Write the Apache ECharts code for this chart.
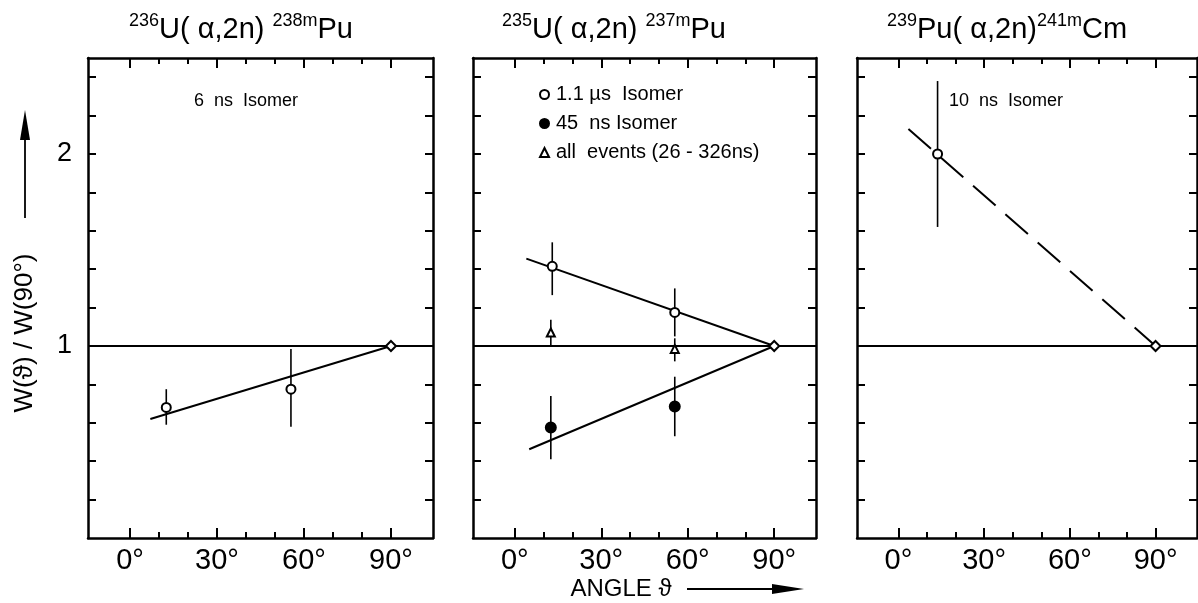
<!DOCTYPE html>
<html>
<head>
<meta charset="utf-8">
<script src="https://cdn.jsdelivr.net/npm/echarts@6/dist/echarts.min.js"></script>
<style>
html,body{margin:0;padding:0;background:#fff;}
#chart{width:1198px;height:603px;}
</style>
</head>
<body>
<div id="chart"></div>
<script>
// ---------- data ----------
const xTickMajor = [0, 30, 60, 90];
const xTickMinor = [10, 20, 40, 50, 70, 80];
const yTicks = [0.2, 0.4, 0.6, 0.8, 1, 1.2, 1.4, 1.6, 1.8, 2, 2.2, 2.4];
const yLabels = [1, 2];
const refLevel = 1;

// Panel 1: 236U(a,2n)238mPu, 6 ns isomer
const p1Angle = [12.5, 55.5, 90];
const p1W = [0.68, 0.775, 1.0];
const p1Lo = [0.59, 0.58, 0.985];
const p1Hi = [0.775, 0.985, 1.015];
const p1FitAngle = [7, 90];
const p1FitW = [0.62, 1.0];

// Panel 2: 235U(a,2n)237mPu
const p2OpenAngle = [13, 55.5, 90];
const p2OpenW = [1.415, 1.175, 1.0];
const p2OpenLo = [1.265, 1.05, 0.985];
const p2OpenHi = [1.54, 1.30, 1.015];
const p2FilledAngle = [12.5, 55.5];
const p2FilledW = [0.575, 0.685];
const p2FilledLo = [0.41, 0.53];
const p2FilledHi = [0.74, 0.84];
const p2TriAngle = [12.5, 55.5];
const p2TriW = [1.07, 0.985];
const p2TriLo = [1.0, 0.92];
const p2TriHi = [1.137, 1.04];
const p2FitOpenAngle = [4, 90];
const p2FitOpenW = [1.455, 1.0];
const p2FitFilledAngle = [5, 90];
const p2FitFilledW = [0.462, 1.0];

// Panel 3: 239Pu(a,2n)241mCm, 10 ns isomer
const p3Angle = [13.7, 90];
const p3W = [2.0, 1.0];
const p3Lo = [1.62, 0.985];
const p3Hi = [2.38, 1.015];
const p3FitAngle = [3.5, 90];
const p3FitW = [2.13, 1.0];

// ---------- helpers ----------
const FONT = "'Liberation Sans','DejaVu Sans',sans-serif";
const XMIN = -14.5, XMAX = 104.5, YMIN = 0, YMAX = 2.5;
const grids = [
  {left: 88, top: 58, width: 345, height: 480},
  {left: 473, top: 58, width: 343, height: 480},
  {left: 857, top: 58, width: 340, height: 480}
];
const zip = (a, b) => a.map((v, i) => [v, b[i]]);
const zip3 = (a, b, c) => a.map((v, i) => [v, b[i], c[i]]);

const xAxes = [], yAxes = [];
grids.forEach((g, i) => {
  const base = {gridIndex: i, type: 'value', min: XMIN, max: XMAX, splitLine: {show: false}};
  xAxes.push(Object.assign({}, base, {
    position: 'bottom',
    axisLine: {show: true, onZero: false, lineStyle: {color: '#000', width: 2.5}},
    axisTick: {show: true, inside: true, length: 10, lineStyle: {color: '#000', width: 2}, customValues: xTickMajor},
    axisLabel: {show: true, customValues: xTickMajor, formatter: '{value}°', fontSize: 29, color: '#000', fontFamily: FONT, margin: 8}
  }));
  xAxes.push(Object.assign({}, base, {
    position: 'bottom',
    axisLine: {show: false, onZero: false},
    axisTick: {show: true, inside: true, length: 6, lineStyle: {color: '#000', width: 2}, customValues: xTickMinor},
    axisLabel: {show: false}
  }));
  xAxes.push(Object.assign({}, base, {
    position: 'top',
    axisLine: {show: true, onZero: false, lineStyle: {color: '#000', width: 2.5}},
    axisTick: {show: true, inside: true, length: 10, lineStyle: {color: '#000', width: 2}, customValues: xTickMajor},
    axisLabel: {show: false}
  }));
  xAxes.push(Object.assign({}, base, {
    position: 'top',
    axisLine: {show: false, onZero: false},
    axisTick: {show: true, inside: true, length: 6, lineStyle: {color: '#000', width: 2}, customValues: xTickMinor},
    axisLabel: {show: false}
  }));
  const ybase = {gridIndex: i, type: 'value', min: YMIN, max: YMAX, splitLine: {show: false}};
  yAxes.push(Object.assign({}, ybase, {
    position: 'left',
    axisLine: {show: true, onZero: false, lineStyle: {color: '#000', width: 2.5}},
    axisTick: {show: true, inside: true, length: 8, lineStyle: {color: '#000', width: 2}, customValues: yTicks},
    axisLabel: {show: i === 0, customValues: yLabels, fontSize: 27, color: '#000', fontFamily: FONT, margin: 16}
  }));
  yAxes.push(Object.assign({}, ybase, {
    position: 'right',
    axisLine: {show: true, onZero: false, lineStyle: {color: '#000', width: 2.5}},
    axisTick: {show: true, inside: true, length: 8, lineStyle: {color: '#000', width: 2}, customValues: yTicks},
    axisLabel: {show: false}
  }));
});

function errSeries(i, data) {
  return {
    type: 'custom', xAxisIndex: 4 * i, yAxisIndex: 2 * i, z: 3, silent: true,
    data: data,
    renderItem: function (params, api) {
      const a = api.coord([api.value(0), api.value(1)]);
      const b = api.coord([api.value(0), api.value(2)]);
      return {type: 'line', shape: {x1: a[0], y1: a[1], x2: b[0], y2: b[1]}, style: {stroke: '#000', lineWidth: 1.6}};
    }
  };
}
function fitSeries(i, data, dashed, withRef) {
  const s = {
    type: 'line', xAxisIndex: 4 * i, yAxisIndex: 2 * i, z: 2, silent: true,
    data: data, symbol: 'none',
    lineStyle: {color: '#000', width: 2, type: dashed ? [30, 13] : 'solid'}
  };
  if (withRef) {
    s.markLine = {silent: true, symbol: 'none', label: {show: false},
      lineStyle: {color: '#000', width: 1.8, type: 'solid'},
      data: [{yAxis: refLevel}]};
  }
  return s;
}
function ptSeries(i, name, data, symbol, filled, size) {
  return {
    name: name, type: 'scatter', xAxisIndex: 4 * i, yAxisIndex: 2 * i, z: 5,
    data: data, symbol: symbol, symbolSize: size,
    itemStyle: {color: filled ? '#000' : '#fff', borderColor: '#000', borderWidth: 2, opacity: 1}
  };
}

const series = [
  // panel 1
  fitSeries(0, zip(p1FitAngle, p1FitW), false, true),
  errSeries(0, zip3(p1Angle, p1Lo, p1Hi)),
  ptSeries(0, 'p1', zip(p1Angle.slice(0, 2), p1W.slice(0, 2)), 'circle', false, 9),
  ptSeries(0, 'p1ref', zip(p1Angle.slice(2), p1W.slice(2)), 'diamond', false, 10),
  // panel 2
  fitSeries(1, zip(p2FitOpenAngle, p2FitOpenW), false, true),
  fitSeries(1, zip(p2FitFilledAngle, p2FitFilledW), false, false),
  errSeries(1, zip3(p2OpenAngle, p2OpenLo, p2OpenHi)),
  errSeries(1, zip3(p2FilledAngle, p2FilledLo, p2FilledHi)),
  errSeries(1, zip3(p2TriAngle, p2TriLo, p2TriHi)),
  ptSeries(1, '1.1 µs  Isomer', zip(p2OpenAngle.slice(0, 2), p2OpenW.slice(0, 2)), 'circle', false, 9),
  ptSeries(1, 'p2ref', zip(p2OpenAngle.slice(2), p2OpenW.slice(2)), 'diamond', false, 10),
  ptSeries(1, '45  ns Isomer', zip(p2FilledAngle, p2FilledW), 'circle', true, 10),
  ptSeries(1, 'all  events (26 - 326ns)', zip(p2TriAngle, p2TriW), 'triangle', false, 8),
  // panel 3
  fitSeries(2, zip(p3FitAngle, p3FitW), true, true),
  errSeries(2, zip3(p3Angle, p3Lo, p3Hi)),
  ptSeries(2, 'p3', zip(p3Angle.slice(0, 1), p3W.slice(0, 1)), 'circle', false, 9),
  ptSeries(2, 'p3ref', zip(p3Angle.slice(1), p3W.slice(1)), 'diamond', false, 10)
];

function title(cx, pre, a, post, b) {
  return {
    type: 'text', x: cx, y: 28, z: 10,
    style: {
      text: '{s|' + pre + '}{m|' + a + '}{s|' + post + '}{m|' + b + '}',
      align: 'center', verticalAlign: 'middle',
      rich: {
        s: {fontSize: 18, fontFamily: FONT, fill: '#000', verticalAlign: 'top', lineHeight: 32},
        m: {fontSize: 29, fontFamily: FONT, fill: '#000', verticalAlign: 'bottom', lineHeight: 32}
      }
    }
  };
}
function txt(x, y, s, size, rot) {
  return {type: 'text', x: x, y: y, rotation: rot || 0, z: 10,
    style: {text: s, align: 'center', verticalAlign: 'middle', fontSize: size, fontFamily: FONT, fill: '#000'}};
}

const option = {
  backgroundColor: '#fff',
  animation: false,
  grid: grids,
  xAxis: xAxes,
  yAxis: yAxes,
  legend: {
    data: [
      {name: '1.1 µs  Isomer', icon: 'circle'},
      {name: '45  ns Isomer', icon: 'circle'},
      {name: 'all  events (26 - 326ns)', icon: 'triangle'}
    ],
    orient: 'vertical', left: 534, top: 79,
    itemWidth: 9, itemHeight: 9, itemGap: 8,
    selectedMode: false,
    textStyle: {fontSize: 20, fontFamily: FONT, color: '#000', lineHeight: 21, padding: [0, 0, 0, 2]}
  },
  series: series,
  graphic: [
    txt(246, 101, '6  ns  Isomer', 18),
    txt(1006, 101, '10  ns  Isomer', 18),
    // y axis title
    txt(25, 333, 'W(ϑ) / W(90°)', 26, Math.PI / 2),
    {type: 'line', shape: {x1: 25, y1: 218, x2: 25, y2: 135}, style: {stroke: '#000', lineWidth: 1.8}},
    {type: 'polygon', shape: {points: [[25, 110], [20, 140], [30, 140]]}, style: {fill: '#000'}},
    // x axis title
    txt(621, 589, 'ANGLE ϑ', 24),
    {type: 'line', shape: {x1: 687, y1: 589, x2: 780, y2: 589}, style: {stroke: '#000', lineWidth: 1.8}},
    {type: 'polygon', shape: {points: [[804, 589], [772, 584], [772, 594]]}, style: {fill: '#000'}},
    title(241, '236', 'U( α,2n) ', '238m', 'Pu'),
    title(614, '235', 'U( α,2n) ', '237m', 'Pu'),
    title(1007, '239', 'Pu( α,2n)', '241m', 'Cm')
  ]
};

const chart = echarts.init(document.getElementById('chart'), null, {renderer: 'canvas'});
chart.setOption(option);
</script>
</body>
</html>
